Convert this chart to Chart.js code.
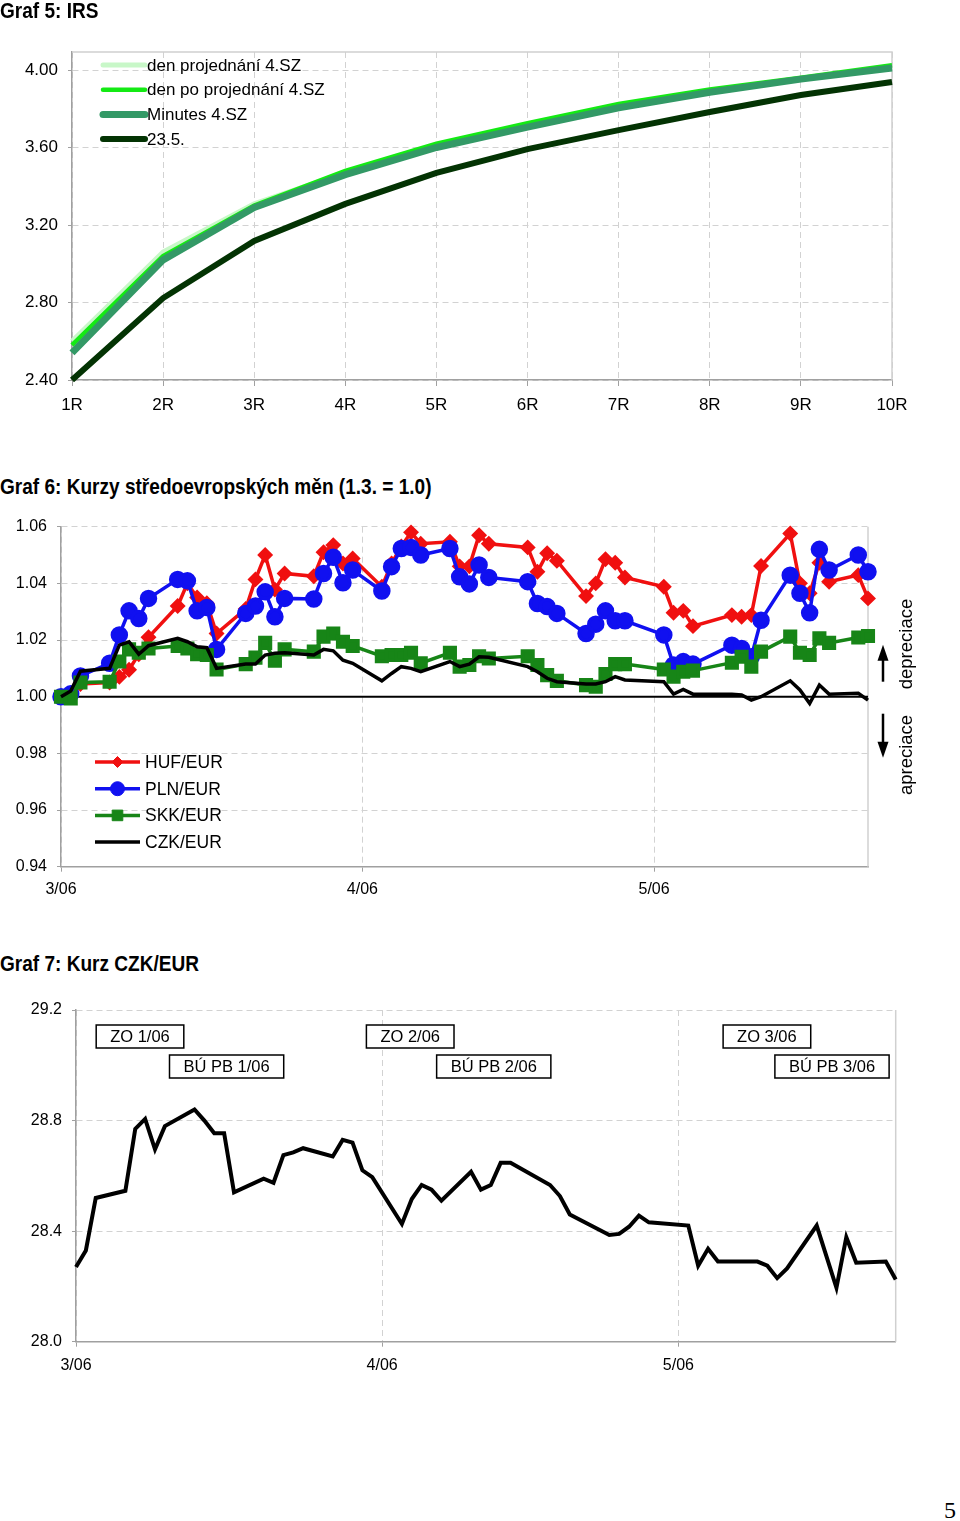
<!DOCTYPE html>
<html>
<head>
<meta charset="utf-8">
<script src="https://cdn.jsdelivr.net/npm/chart.js@4.4.1/dist/chart.umd.min.js"></script>
<style>
  body { margin: 0; background: #fff; width: 960px; height: 1521px; position: relative; overflow: hidden;
         font-family: "Liberation Sans", Arial, sans-serif; }
  .title { position: absolute; left: 0; font-weight: bold; font-size: 22px; line-height: 22px; white-space: nowrap;
           transform: scaleX(0.866); transform-origin: 0 0; z-index: 2; }
  canvas { position: absolute; left: 0; }
  #page { position: absolute; left: 944px; top: 1498px; font: 24px/24px "Liberation Serif", "Times New Roman", serif; }
</style>
</head>
<body>
<div class="title" style="top:0px">Graf 5: IRS</div>
<canvas id="c5" width="960" height="430" style="top:0px"></canvas>

<div class="title" style="top:476px">Graf 6: Kurzy středoevropských měn (1.3. = 1.0)</div>
<canvas id="c6" width="960" height="410" style="top:505px"></canvas>

<div class="title" style="top:953px">Graf 7: Kurz CZK/EUR</div>
<canvas id="c7" width="960" height="400" style="top:990px"></canvas>

<div id="page">5</div>

<script>
// ---------- Graf 5: IRS ----------
const irsTerms = ['1R', '2R', '3R', '4R', '5R', '6R', '7R', '8R', '9R', '10R'];
const irsMeetingDay = [2.60, 3.06, 3.31, 3.47, 3.61, 3.71, 3.81, 3.89, 3.955, 4.02];
const irsDayAfter   = [2.58, 3.04, 3.30, 3.48, 3.62, 3.725, 3.825, 3.90, 3.96, 4.025];
const irsMinutes    = [2.54, 3.02, 3.29, 3.46, 3.60, 3.705, 3.805, 3.885, 3.953, 4.01];
const irs23May      = [2.40, 2.823, 3.118, 3.309, 3.469, 3.592, 3.69, 3.783, 3.871, 3.938];
const irsTicks = [2.4, 2.8, 3.2, 3.6, 4.0];

// ---------- Graf 6: CE currencies (1.3. = 1.0), x = days since 1 March ----------
const fxDays = [0,1,2,5,6,7,8,9,12,13,14,15,16,19,20,21,22,23,26,27,28,29,30,33,34,35,36,37,
                40,41,42,43,44,48,49,50,51,54,55,56,57,58,62,63,64,65,69,70,71,72,75,76,77,78,79,82,83];
const hufEur = [1.000,1.000,1.0045,1.005,1.007,1.0095,1.015,1.021,1.032,1.040,1.035,1.033,1.0223,1.031,1.0414,
                1.050,1.0378,1.0435,1.0425,1.051,1.0535,1.047,1.0488,1.0388,1.047,1.053,1.058,1.054,1.0547,1.046,
                1.046,1.057,1.054,1.0527,1.0441,1.0506,1.048,1.0355,1.040,1.0485,1.0473,1.0421,1.0388,1.0296,1.0303,
                1.0249,1.0288,1.0282,1.0288,1.0461,1.0576,1.040,1.0365,1.0473,1.0406,1.0429,1.0347];
const plnEur = [1.000,1.001,1.0073,1.0118,1.0218,1.0303,1.0276,1.0347,1.0414,1.0409,1.0303,1.0315,1.0167,1.0294,1.032,
                1.037,1.0282,1.0347,1.0345,1.0435,1.0492,1.0402,1.0447,1.0373,1.0459,1.0523,1.0527,1.050,1.0523,1.0423,
                1.0398,1.0465,1.0421,1.0406,1.0329,1.0318,1.0294,1.0223,1.0256,1.0303,1.0268,1.0268,1.0218,1.0112,1.0124,
                1.0115,1.0182,1.017,1.0141,1.027,1.0429,1.0365,1.0296,1.052,1.0447,1.050,1.0441];
const skkEur = [1.000,0.9994,1.005,1.0053,1.0124,1.0167,1.0155,1.017,1.0179,1.017,1.015,1.0147,1.0096,1.0115,1.0138,
                1.019,1.0127,1.0167,1.0159,1.0212,1.0223,1.0194,1.0179,1.0143,1.0147,1.0147,1.0155,1.0118,1.0155,1.0106,
                1.0112,1.0143,1.0135,1.0143,1.0112,1.0076,1.0056,1.0041,1.0035,1.008,1.0115,1.0115,1.0096,1.0071,1.0088,
                1.0092,1.012,1.0141,1.0106,1.0159,1.0212,1.0155,1.0147,1.0206,1.019,1.0209,1.0214];
const czkEur = [1.000,1.002,1.009,1.010,1.0182,1.0194,1.015,1.018,1.0206,1.0194,1.0176,1.0173,1.010,1.0115,1.0115,
                1.0147,1.0153,1.0155,1.0147,1.0167,1.0162,1.0129,1.0118,1.0056,1.0082,1.0106,1.010,1.0088,1.0124,1.0106,
                1.0115,1.0141,1.0139,1.0106,1.0088,1.0065,1.0053,1.0045,1.0045,1.0053,1.0071,1.0059,1.0053,1.0009,1.0026,
                1.0009,1.0009,1.0006,0.9988,1.000,1.0056,1.0024,0.9976,1.0041,1.0009,1.0012,0.9988];
const fxBase = 1.0;
const fxTicks = [0.94, 0.96, 0.98, 1.00, 1.02, 1.04, 1.06];

// shared month axis
const monthDays = [0, 31, 61];
const monthLabels = ['3/06', '4/06', '5/06'];
const lastDay = 83;

// ---------- Graf 7: CZK/EUR ----------
const czkDays = [0,1,2,5,6,7,8,9,12,13,14,15,16,19,20,21,22,23,26,27,28,29,30,33,34,35,36,37,
                 40,41,42,43,44,48,49,50,54,55,56,57,58,62,63,64,65,69,70,71,72,75,77,78,79,82,83];
const czkRate = [28.27,28.33,28.52,28.546,28.77,28.806,28.696,28.78,28.84,28.80,
                 28.754,28.754,28.54,28.59,28.575,28.675,28.685,28.70,28.67,28.73,
                 28.72,28.62,28.595,28.426,28.516,28.567,28.55,28.51,28.615,28.55,
                 28.567,28.647,28.647,28.567,28.527,28.46,28.386,28.39,28.416,28.456,
                 28.432,28.42,28.275,28.336,28.29,28.29,28.275,28.23,28.265,28.42,
                 28.195,28.378,28.286,28.29,28.225];
const czkTicks = [28.0, 28.4, 28.8, 29.2];
const eventLabels = ['ZO 1/06', 'BÚ PB 1/06', 'ZO 2/06', 'BÚ PB 2/06', 'ZO 3/06', 'BÚ PB 3/06'];

// ---------- helpers ----------
Chart.defaults.font.family = '"Liberation Sans", Arial, sans-serif';
Chart.defaults.color = '#000';

const GRID = '#d2d2d2', AXIS = '#a0a0a0';
const pts = (xs, ys) => xs.map((x, i) => ({ x: x, y: ys[i] }));

function drawMarker(ctx, style, r, x, y, color) {
  ctx.save();
  ctx.fillStyle = color; ctx.strokeStyle = color; ctx.lineWidth = 1;
  ctx.beginPath();
  if (style === 'circle') ctx.arc(x, y, r, 0, Math.PI * 2);
  else if (style === 'rect') { const s = r * Math.SQRT1_2; ctx.rect(x - s, y - s, 2 * s, 2 * s); }
  else { ctx.moveTo(x - r, y); ctx.lineTo(x, y - r); ctx.lineTo(x + r, y); ctx.lineTo(x, y + r); ctx.closePath(); }
  ctx.fill(); ctx.stroke();
  ctx.restore();
}

const frame = {
  id: 'frame',
  beforeDatasetsDraw(chart, args, o) {
    const { ctx, chartArea: a } = chart;
    ctx.save();
    ctx.strokeStyle = '#d0d0d0'; ctx.lineWidth = 1.5;
    ctx.beginPath();
    if (o.top) { ctx.moveTo(a.left, a.top); ctx.lineTo(a.right, a.top); } else ctx.moveTo(a.right, a.top);
    ctx.lineTo(a.right, a.bottom);
    ctx.stroke();
    ctx.restore();
  }
};

const insideLegend = {
  id: 'insideLegend',
  afterDraw(chart, args, o) {
    const { ctx, chartArea: a } = chart;
    let row = 0;
    chart.data.datasets.slice().sort((p, q) => p.legendIndex - q.legendIndex).forEach(ds => {
      if (!ds.label) return;
      const y = a.top + o.top + row * o.step;
      const x0 = a.left + o.left, x1 = x0 + o.len;
      ctx.save();
      ctx.strokeStyle = ds.borderColor; ctx.lineWidth = ds.legendWidth || ds.borderWidth; ctx.lineCap = o.cap || 'butt';
      ctx.beginPath(); ctx.moveTo(x0, y); ctx.lineTo(x1, y); ctx.stroke();
      if (ds.pointRadius > 0) drawMarker(ctx, ds.pointStyle, ds.pointRadius, (x0 + x1) / 2, y, ds.pointBackgroundColor);
      ctx.fillStyle = '#000'; ctx.font = o.font; ctx.textBaseline = 'middle'; ctx.textAlign = 'left';
      ctx.fillText(ds.label, x1 + o.gap, y + 1);
      ctx.restore();
      row++;
    });
  }
};

const sideNote = {
  id: 'sideNote',
  afterDraw(chart, args, o) {
    const { ctx, chartArea: a, scales: { y } } = chart;
    const y0 = y.getPixelForValue(o.value);
    const ax = a.right + 15, tx = a.right + 38.5;
    ctx.save();
    ctx.fillStyle = '#000'; ctx.strokeStyle = '#000'; ctx.lineWidth = 2.5;
    ctx.beginPath(); ctx.moveTo(ax, y0 - 15); ctx.lineTo(ax, y0 - 40); ctx.stroke();
    ctx.beginPath(); ctx.moveTo(ax, y0 - 52); ctx.lineTo(ax - 5.5, y0 - 36); ctx.lineTo(ax + 5.5, y0 - 36); ctx.closePath(); ctx.fill();
    ctx.beginPath(); ctx.moveTo(ax, y0 + 17); ctx.lineTo(ax, y0 + 48); ctx.stroke();
    ctx.beginPath(); ctx.moveTo(ax, y0 + 61); ctx.lineTo(ax - 5.5, y0 + 45); ctx.lineTo(ax + 5.5, y0 + 45); ctx.closePath(); ctx.fill();
    ctx.font = '18.5px "Liberation Sans", Arial, sans-serif'; ctx.textAlign = 'center'; ctx.textBaseline = 'middle';
    [[o.up, -52.7], [o.down, 58.3]].forEach(([t, dy]) => {
      ctx.save(); ctx.translate(tx, y0 + dy); ctx.rotate(-Math.PI / 2); ctx.fillText(t, 0, 0); ctx.restore();
    });
    ctx.restore();
  }
};

const eventBoxes = {
  id: 'eventBoxes',
  afterDraw(chart, args, o) {
    const { ctx, chartArea: a, scales: { x } } = chart;
    ctx.save();
    ctx.font = o.font; ctx.textAlign = 'center'; ctx.textBaseline = 'middle';
    o.items.forEach(b => {
      const cx = x.getPixelForValue(b.at);
      const cy = a.top + o.rowTop + b.row * o.rowStep;
      const w = ctx.measureText(b.text).width + 28, h = 23;
      ctx.fillStyle = '#fff'; ctx.fillRect(cx - w / 2, cy - h / 2, w, h);
      ctx.strokeStyle = '#000'; ctx.lineWidth = 1.5; ctx.strokeRect(cx - w / 2, cy - h / 2, w, h);
      ctx.fillStyle = '#000'; ctx.fillText(b.text, cx, cy + 1);
    });
    ctx.restore();
  }
};

function monthAxis(pad) {
  return {
    type: 'linear', min: 0, max: lastDay,
    afterBuildTicks: s => { s.ticks = monthDays.map(v => ({ value: v })); },
    afterFit: s => { s.height = 40; },
    ticks: { callback: (v, i) => monthLabels[i], font: { size: 16 }, padding: pad, maxRotation: 0, autoSkip: false },
    grid: { color: GRID, tickColor: AXIS, tickLength: 5, tickBorderDash: [] },
    border: { color: AXIS, width: 1.5, dash: [6, 4] }
  };
}

function valueAxis(min, max, list, digits, width, size) {
  return {
    min: min, max: max,
    afterBuildTicks: s => { s.ticks = list.map(v => ({ value: v })); },
    afterFit: s => { s.width = width; },
    ticks: { callback: v => v.toFixed(digits), font: { size: size }, padding: 10 },
    grid: { color: GRID, tickColor: AXIS, tickLength: 4, tickBorderDash: [] },
    border: { color: AXIS, width: 1.5, dash: [6, 4] }
  };
}

const common = { responsive: false, animation: false, events: [], devicePixelRatio: 1 };

// ---------- chart 5 ----------
new Chart(document.getElementById('c5'), {
  type: 'line',
  data: {
    labels: irsTerms,
    datasets: [
      { label: 'den projednání 4.SZ', data: irsMeetingDay, borderColor: '#c8f7c8', borderWidth: 5, order: 4, legendIndex: 0 },
      { label: 'den po projednání 4.SZ', data: irsDayAfter, borderColor: '#14ea14', borderWidth: 4.5, order: 3, legendIndex: 1 },
      { label: 'Minutes 4.SZ', data: irsMinutes, borderColor: '#339966', borderWidth: 7, order: 2, legendIndex: 2 },
      { label: '23.5.', data: irs23May, borderColor: '#033303', borderWidth: 6, order: 1, legendIndex: 3 }
    ].map(d => Object.assign(d, { pointRadius: 0, tension: 0, clip: false }))
  },
  options: Object.assign({}, common, {
    layout: { padding: { top: 52, left: 0, right: 68, bottom: 10 } },
    scales: {
      x: {
        afterFit: s => { s.height = 40; },
        ticks: { font: { size: 17 }, padding: 9, maxRotation: 0, autoSkip: false },
        grid: { color: GRID, tickColor: AXIS, tickLength: 6, tickBorderDash: [], offset: false },
        border: { color: AXIS, width: 1.5, dash: [6, 4] },
        offset: false
      },
      y: valueAxis(2.4, 4.093, irsTicks, 2, 72, 17)
    },
    plugins: {
      legend: { display: false }, tooltip: { enabled: false },
      frame: { top: true },
      insideLegend: { left: 31, top: 13, step: 24.7, len: 42, gap: 2, cap: 'round', font: '17px "Liberation Sans", Arial, sans-serif' }
    }
  }),
  plugins: [frame, insideLegend]
});

// ---------- chart 6 ----------
const fxStyle = (color, shape, r, order, idx) => ({
  borderColor: color, backgroundColor: color, pointBackgroundColor: color, pointBorderColor: color,
  pointStyle: shape, pointRadius: r, borderWidth: 3.5, order: order, legendIndex: idx, tension: 0, clip: false
});

new Chart(document.getElementById('c6'), {
  type: 'line',
  data: {
    datasets: [
      { data: [{ x: 0, y: fxBase }, { x: lastDay, y: fxBase }], borderColor: '#000', borderWidth: 2, pointRadius: 0, order: 10, legendIndex: 99, clip: false },
      Object.assign({ label: 'HUF/EUR', data: pts(fxDays, hufEur) }, fxStyle('#f01010', 'rectRot', 5.5, 4, 0)),
      Object.assign({ label: 'PLN/EUR', data: pts(fxDays, plnEur) }, fxStyle('#1010f0', 'circle', 7, 3, 1)),
      Object.assign({ label: 'SKK/EUR', data: pts(fxDays, skkEur) }, fxStyle('#178517', 'rect', 7.5, 2, 2)),
      Object.assign({ label: 'CZK/EUR', data: pts(fxDays, czkEur) }, fxStyle('#000000', 'circle', 0, 1, 3), { borderWidth: 3.5 })
    ]
  },
  options: Object.assign({}, common, {
    layout: { padding: { top: 21.7, left: 0, right: 92, bottom: 8.3 } },
    scales: { x: monthAxis(8), y: valueAxis(0.94, 1.06, fxTicks, 2, 61, 16) },
    plugins: {
      legend: { display: false }, tooltip: { enabled: false },
      frame: { top: false },
      insideLegend: { left: 34, top: 235.3, step: 26.7, len: 45, gap: 5, font: '17.5px "Liberation Sans", Arial, sans-serif' },
      sideNote: { value: fxBase, up: 'depreciace', down: 'apreciace' }
    }
  }),
  plugins: [frame, insideLegend, sideNote]
});

// ---------- chart 7 ----------
new Chart(document.getElementById('c7'), {
  type: 'line',
  data: {
    datasets: [
      { label: 'CZK/EUR', data: pts(czkDays, czkRate), borderColor: '#000', borderWidth: 4, pointRadius: 0, tension: 0, clip: false }
    ]
  },
  options: Object.assign({}, common, {
    layout: { padding: { top: 20, left: 0, right: 64.3, bottom: 8.3 } },
    scales: { x: monthAxis(9), y: valueAxis(28.0, 29.2, czkTicks, 1, 76, 16) },
    plugins: {
      legend: { display: false }, tooltip: { enabled: false },
      frame: { top: false },
      eventBoxes: {
        font: '16.5px "Liberation Sans", Arial, sans-serif', rowTop: 26.5, rowStep: 30,
        items: [
          { text: eventLabels[0], at: 6.48, row: 0 },
          { text: eventLabels[1], at: 15.25, row: 1 },
          { text: eventLabels[2], at: 33.84, row: 0 },
          { text: eventLabels[3], at: 42.3, row: 1 },
          { text: eventLabels[4], at: 69.96, row: 0 },
          { text: eventLabels[5], at: 76.55, row: 1 }
        ]
      }
    }
  }),
  plugins: [frame, eventBoxes]
});
</script>
</body>
</html>
